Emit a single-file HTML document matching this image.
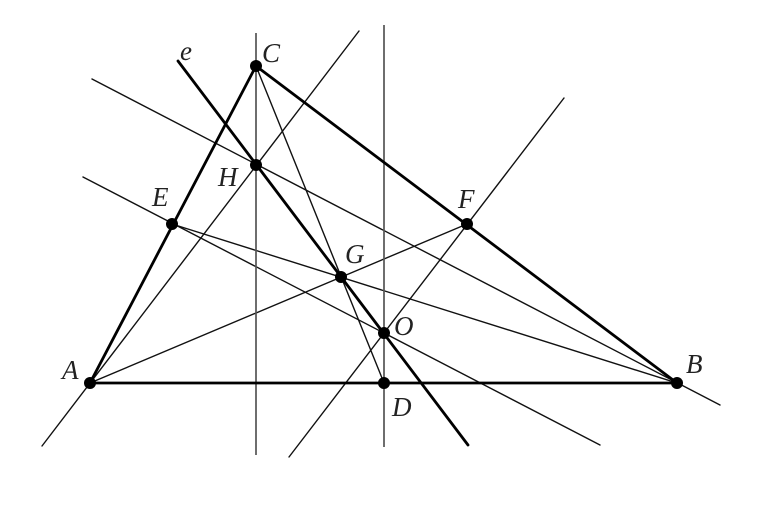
<!DOCTYPE html>
<html><head><meta charset="utf-8"><style>
html,body{margin:0;padding:0;background:#fff}
svg{display:block}
text{font-family:"Liberation Serif",serif;font-style:italic;font-size:27px;fill:#222}
</style></head><body>
<svg width="768" height="512" viewBox="0 0 768 512" xmlns="http://www.w3.org/2000/svg">
<g stroke="#111" stroke-width="1.4" fill="none" stroke-linecap="round">
<line x1="42" y1="446" x2="359" y2="31"/>
<line x1="90" y1="383" x2="467" y2="224"/>
<line x1="172" y1="224" x2="677" y2="383"/>
<line x1="256" y1="66" x2="384" y2="383"/>
<line x1="564" y1="98" x2="289" y2="457"/>
<line x1="92" y1="79" x2="720" y2="405"/>
<line x1="83" y1="177" x2="600" y2="445"/>
</g>
<g stroke="#555" stroke-width="1.7">
<line x1="256" y1="33" x2="256" y2="455"/>
<line x1="384" y1="25" x2="384" y2="447"/>
</g>
<g stroke="#000" stroke-width="2.8" fill="none" stroke-linecap="round">
<polygon points="90,383 677,383 256,66" stroke-linejoin="round"/>
<line x1="178" y1="61" x2="468" y2="445"/>
</g>
<g fill="#000">
<circle cx="90" cy="383" r="6"/><circle cx="677" cy="383" r="6"/>
<circle cx="256" cy="66" r="6"/><circle cx="256" cy="165" r="6"/>
<circle cx="172" cy="224" r="6"/><circle cx="467" cy="224" r="6"/>
<circle cx="341" cy="277" r="6"/><circle cx="384" cy="333" r="6"/>
<circle cx="384" cy="383" r="6"/>
</g>
<text x="180" y="60">e</text>
<text x="262" y="62">C</text>
<text x="218" y="186">H</text>
<text x="152" y="206">E</text>
<text x="458" y="208">F</text>
<text x="345" y="263">G</text>
<text x="394" y="335">O</text>
<text x="62" y="379">A</text>
<text x="686" y="373">B</text>
<text x="392" y="416">D</text>
</svg>
</body></html>
